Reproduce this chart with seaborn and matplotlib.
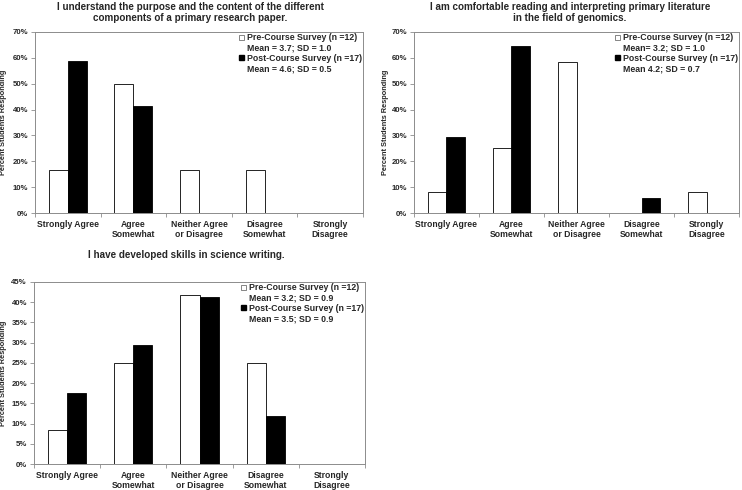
"""
Pre/Post course survey responses, three Likert items as grouped bars
"""

import numpy as np
import pandas as pd
import matplotlib
matplotlib.use('Agg')
import matplotlib.pyplot as plt
import seaborn as sns
from matplotlib.patches import Patch
from matplotlib.ticker import PercentFormatter, FixedLocator

categories = ['Strongly Agree', 'Agree\nSomewhat', 'Neither Agree\nor Disagree',
              'Disagree\nSomewhat', 'Strongly\nDisagree']

titles = [
    'I understand the purpose and the content of the different\ncomponents of a primary research paper.',
    'I am comfortable reading and interpreting primary literature\nin the field of genomics.',
    'I have developed skills in science writing.',
]

pre_values = [
    [16.7, 50.0, 16.7, 16.7, 0.0],
    [8.3, 25.0, 58.3, 0.0, 8.3],
    [8.3, 25.0, 41.7, 25.0, 0.0],
]
post_values = [
    [58.8, 41.2, 0.0, 0.0, 0.0],
    [29.4, 64.7, 0.0, 5.9, 0.0],
    [17.6, 29.4, 41.2, 11.8, 0.0],
]

pre_labels = ['Pre-Course Survey (n =12)'] * 3
pre_stats = ['Mean = 3.7; SD = 1.0', 'Mean= 3.2; SD = 1.0', 'Mean = 3.2; SD = 0.9']
post_labels = ['Post-Course Survey (n =17)'] * 3
post_stats = ['Mean = 4.6; SD = 0.5', 'Mean 4.2; SD = 0.7', 'Mean = 3.5; SD = 0.9']

y_max = [70, 70, 45]
y_step = [10, 10, 5]

sns.set_style('white')
plt.rcParams['font.family'] = ['Liberation Sans', 'DejaVu Sans']
plt.rcParams['font.weight'] = 'bold'

W, H = 742, 490
fig = plt.figure(figsize=(W / 100, H / 100), dpi=100)
# axes boxes in pixels: left, top, width, height
boxes = [(35, 32, 328, 181), (414, 32, 325, 181), (34, 282, 331, 182)]
ylabel_x = [7, 389, 7]      # right edge of the y label, px
title_x = [190, 570, 186]   # title centre, px
title_pad = [8, 8, 17]

grey = '#8c8c8c'

for i in range(3):
    l, t, w, h = boxes[i]
    ax = fig.add_axes((l / W, 1 - (t + h) / H, w / W, h / H))
    df = pd.DataFrame({
        'category': categories * 2,
        'survey': ['Pre'] * 5 + ['Post'] * 5,
        'value': pre_values[i] + post_values[i],
    })
    sns.barplot(data=df, x='category', y='value', hue='survey',
                palette={'Pre': 'white', 'Post': 'black'},
                order=categories, hue_order=['Pre', 'Post'],
                width=0.58, edgecolor='black', linewidth=0.6,
                legend=False, ax=ax)

    ax.set_xlim(-0.5, 4.5)
    ax.set_ylim(0, y_max[i])
    ax.set_yticks(np.arange(0, y_max[i] + 0.1, y_step[i]))
    ax.yaxis.set_major_formatter(PercentFormatter(decimals=0))
    ax.set_xlabel('')
    ax.set_ylabel('Percent Students Responding', fontsize=5.3, fontweight='bold')
    ax.yaxis.set_label_coords((ylabel_x[i] - l) / w, 0.5)
    ax.tick_params(axis='y', labelsize=5.6, length=3, width=0.6, color=grey, pad=2, left=True)
    ax.tick_params(axis='x', which='major', labelsize=6.2, length=0, pad=5)
    ax.xaxis.set_minor_locator(FixedLocator(np.arange(-0.5, 4.6, 1)))
    ax.tick_params(axis='x', which='minor', length=3, width=0.6, color=grey, bottom=True)
    for lbl in ax.get_xticklabels() + ax.get_yticklabels():
        lbl.set_fontweight('bold')
    for lbl in ax.get_xticklabels():
        lbl.set_linespacing(1.15)
    for sp in ax.spines.values():
        sp.set_color(grey)
        sp.set_linewidth(0.7)

    ax.set_title(titles[i], fontsize=7.1, fontweight='bold', pad=title_pad[i],
                 linespacing=1.05, x=(title_x[i] - l) / w)

    blank = Patch(facecolor='none', edgecolor='none')
    handles = [Patch(facecolor='white', edgecolor='#555555', linewidth=0.5), blank,
               Patch(facecolor='black', edgecolor='black'), blank]
    labels = [pre_labels[i], pre_stats[i], post_labels[i], post_stats[i]]
    ax.legend(handles, labels, loc='upper right', frameon=False,
              handlelength=0.55, handleheight=0.55,
              handletextpad=0.3, labelspacing=0.15,
              borderaxespad=0.1, borderpad=0.05,
              prop={'weight': 'bold', 'size': 6.3})

fig.savefig('out.png', dpi=100)
